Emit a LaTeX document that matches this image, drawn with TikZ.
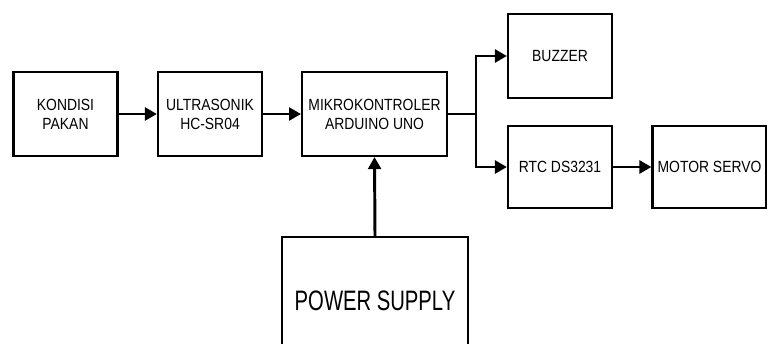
\documentclass[tikz,border=0pt]{standalone}
\usepackage{fontspec}
\usepackage{tikz}
\usetikzlibrary{arrows.meta,positioning,calc}
\setmainfont{Liberation Sans}
\newfontfamily\blockfont[FakeStretch=0.86]{Liberation Sans}
\newfontfamily\bigfont[FakeStretch=0.72]{Liberation Sans}
\tikzset{
  blk/.style={draw=black,line width=1.5pt,fill=white,font=\blockfont\fontsize{11.5}{13.5}\selectfont,align=center,minimum width=2.6cm,minimum height=2.1cm,inner sep=1pt},
  sig/.style={-{Triangle[length=0.3cm,width=0.32cm]},draw=black,line width=2.1pt},
  wire/.style={draw=black,line width=2.1pt}
}
\begin{document}
\begin{tikzpicture}[x=0.025cm,y=-0.025cm]
\useasboundingbox (0,0) rectangle (767,343);
\clip (0,0) rectangle (767,343);
\node[blk] (kp) at (65.5,114) {KONDISI\\PAKAN};
\node[blk] (us) at (210,114) {ULTRASONIK\\HC-SR04};
\node[blk,minimum width=3.62cm] (mk) at (374.5,114) {MIKROKONTROLER\\ARDUINO UNO};
\node[blk] (bz) at (560,56) {BUZZER};
\node[blk,minimum height=2.05cm] (rtc) at (560,167) {RTC DS3231};
\node[blk,minimum width=2.85cm,minimum height=2.05cm] (ms) at (709.5,167) {MOTOR SERVO};
\node[blk,minimum width=4.65cm,minimum height=3.2cm,font=\bigfont\fontsize{20}{24}\selectfont] (ps) at (375,301) {POWER SUPPLY};
\coordinate (split) at (476,114);
\draw[sig] (kp) -- (us);
\draw[sig] (us) -- (mk);
\draw[wire] (mk) -- (split);
\draw[sig] (split) |- (bz);
\draw[sig] (split) |- (rtc);
\draw[sig] (rtc) -- (ms);
\draw[sig] (ps.north) -- (mk.south);
\end{tikzpicture}
\end{document}
